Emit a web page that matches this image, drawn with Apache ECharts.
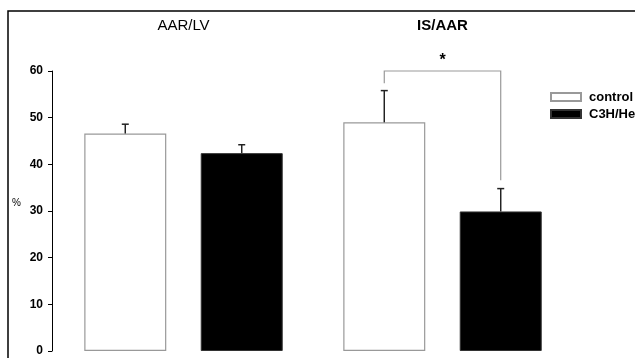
<!DOCTYPE html>
<html><head><meta charset="utf-8">
<script src="https://cdn.jsdelivr.net/npm/echarts@6/dist/echarts.min.js"></script>
<style>html,body{margin:0;padding:0;background:#fff}#c{width:635px;height:358px}</style>
</head><body><div id="c"></div>
<script>
var categories = ['AAR/LV', 'IS/AAR'];
var seriesNames = ['control', 'C3H/HeJ'];
var controlMean = [46.6, 49.0];
var controlErr = [2.0, 6.8];
var c3hMean = [42.4, 29.9];
var c3hErr = [1.8, 4.9];
var yTicks = [0, 10, 20, 30, 40, 50, 60];
// significance bracket on IS/AAR: [category index, bracket level, left leg end, right leg end]
var sigBracket = [[1, 60, 57.4, 36.6]];

var BAR_W = 82, GAP = 0.42;
var OFF = (BAR_W + BAR_W * GAP) / 2;

var chart = echarts.init(document.getElementById('c'));
function errItem(sign, means, errs) {
  return function (params, api) {
    var i = api.value(0);
    var m = means[i], e = errs[i];
    var p0 = api.coord([i, m]);
    var p1 = api.coord([i, m + e]);
    var x = p0[0] + sign * OFF;
    return { type: 'group', children: [
      { type: 'line', shape: { x1: x, y1: p0[1], x2: x, y2: p1[1] }, style: { stroke: '#222', lineWidth: 1.5 } },
      { type: 'line', shape: { x1: x - 3.5, y1: p1[1], x2: x + 3.5, y2: p1[1] }, style: { stroke: '#222', lineWidth: 1.5 } }
    ]};
  };
}
var option = {
  animation: false,
  backgroundColor: '#fff',
  grid: { left: 54, width: 518, top: 71, bottom: 7 },
  xAxis: { type: 'category', data: categories, position: 'top',
    axisLine: { show: false }, axisTick: { show: false },
    axisLabel: { show: true, margin: 38, fontFamily: 'Liberation Sans', fontSize: 15, color: '#000',
      formatter: function (v) { return v === 'IS/AAR' ? '{b|' + v + '}' : v; },
      rich: { b: { fontWeight: 'bold', fontSize: 15, fontFamily: 'Liberation Sans', color: '#000' } } } },
  yAxis: { type: 'value', min: 0, max: 60, interval: 10, offset: 2,
    axisLine: { show: true, lineStyle: { color: '#000', width: 1 } },
    axisTick: { show: true, length: 4, lineStyle: { color: '#000' } },
    splitLine: { show: false },
    axisLabel: { margin: 9, fontFamily: 'Liberation Sans', fontWeight: 'bold', fontSize: 12, color: '#000',
      formatter: function (v) { return yTicks.indexOf(v) >= 0 ? String(v) : ''; } } },
  legend: { show: true, orient: 'vertical', left: 550, top: 90.5, itemWidth: 30, itemHeight: 8, itemGap: 4, padding: 0,
    icon: 'rect',
    textStyle: { fontFamily: 'Liberation Sans', fontWeight: 'bold', fontSize: 13, color: '#000', padding: [0, 0, 0, 3] },
    data: seriesNames },
  series: [
    { name: seriesNames[0], type: 'bar', data: controlMean, barWidth: BAR_W, barGap: (GAP * 100) + '%',
      itemStyle: { color: '#fff', borderColor: '#999', borderWidth: 1.2 } },
    { name: seriesNames[1], type: 'bar', data: c3hMean, barWidth: BAR_W,
      itemStyle: { color: '#000', borderColor: '#333', borderWidth: 1 } },
    { type: 'custom', data: categories.map(function (c, i) { return [i]; }), renderItem: errItem(-1, controlMean, controlErr), z: 5 },
    { type: 'custom', data: categories.map(function (c, i) { return [i]; }), renderItem: errItem(1, c3hMean, c3hErr), z: 5 },
    { type: 'custom', data: sigBracket, z: 6, renderItem: function (params, api) {
        var i = api.value(0), lv = api.value(1), l = api.value(2), r = api.value(3);
        var top = api.coord([i, lv]);
        var xl = top[0] - OFF, xr = top[0] + OFF;
        var yl = api.coord([i, l])[1], yr = api.coord([i, r])[1];
        var st = { stroke: '#999', lineWidth: 1.2, fill: null };
        return { type: 'group', children: [
          { type: 'polyline', shape: { points: [[xl, yl], [xl, top[1]], [xr, top[1]], [xr, yr]] }, style: st },
          { type: 'text', x: top[0], y: top[1] - 2, style: { text: '*', fontSize: 16, fontWeight: 'bold', fontFamily: 'Liberation Sans', fill: '#000', align: 'center', verticalAlign: 'bottom' } }
        ]};
      } }
  ],
  graphic: [
    { type: 'rect', shape: { x: 8, y: 11, width: 700, height: 400 }, style: { fill: null, stroke: '#000', lineWidth: 1.5 }, silent: true },
    { type: 'text', left: 12, top: 198, style: { text: '%', fontSize: 10, fontFamily: 'Liberation Sans', fill: '#000' } }
  ]
};
chart.setOption(option);
</script></body></html>
